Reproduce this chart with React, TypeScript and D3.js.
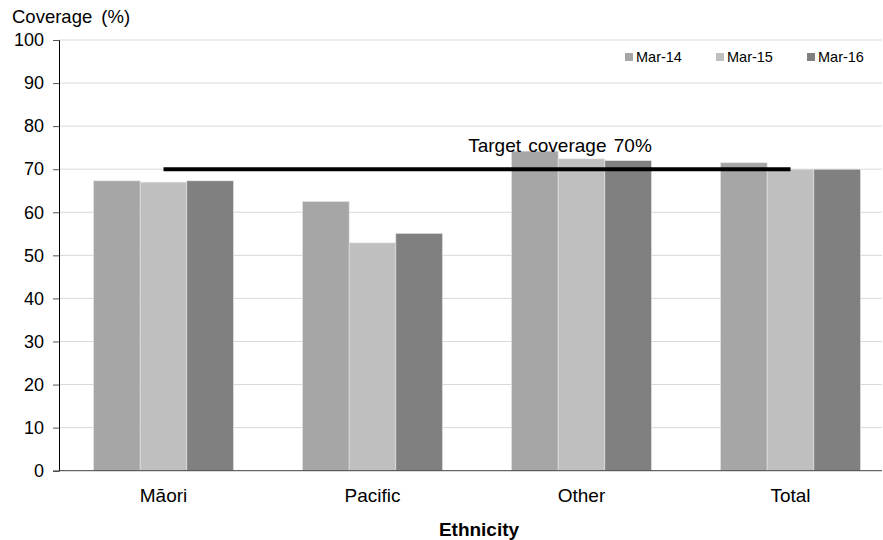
import * as d3 from 'd3'
import React, { useEffect, useRef } from "react";

const categories = ['Māori', 'Pacific', 'Other', 'Total']
const seriesNames = ['Mar-14', 'Mar-15', 'Mar-16']
const mar14 = [67.3, 62.5, 74.2, 71.5]
const mar15 = [67.0, 52.9, 72.4, 70.0]
const mar16 = [67.3, 55.1, 72.0, 70.0]
const yTicks = [0, 10, 20, 30, 40, 50, 60, 70, 80, 90, 100]
const target = 70
const targetLabel = 'Target coverage 70%'

const colors = ['#a6a6a6', '#bfbfbf', '#808080']
const font = 'Liberation Sans, Arial, sans-serif'

const App: React.FC = () => {
    const ref = useRef<SVGSVGElement>(null);

    useEffect(() => {
        if (!ref.current) return;
        const width = 883;
        const height = 540;
        const svg = d3.select(ref.current)
            .attr('width', width)
            .attr('height', height)
            .style('font-family', font);
        svg.selectAll('*').remove();

        const left = 59;
        const x = d3.scaleBand<string>().domain(categories).range([left, left + 209 * 4]).paddingInner(0.33).paddingOuter(0.165);
        const xs = d3.scaleBand<string>().domain(seriesNames).range([0, x.bandwidth()]);
        const y = d3.scaleLinear().domain([0, 100]).range([470.7, 40]);

        // gridlines
        svg.append('g')
            .selectAll('line')
            .data(yTicks.slice(1))
            .join('line')
            .attr('x1', left).attr('x2', 882)
            .attr('y1', d => y(d)).attr('y2', d => y(d))
            .attr('stroke', '#d9d9d9').attr('stroke-width', 1);

        const series = [mar14, mar15, mar16];
        series.forEach((vals, si) => {
            svg.append('g')
                .selectAll('rect')
                .data(vals)
                .join('rect')
                .attr('x', (_, i) => (x(categories[i]) as number) + (xs(seriesNames[si]) as number))
                .attr('y', d => y(d))
                .attr('width', xs.bandwidth())
                .attr('height', d => y(0) - y(d))
                .attr('fill', colors[si])
                .attr('stroke', '#e6e6e6')
                .attr('stroke-width', 0.6);
        });

        // y axis
        const yAxis = svg.append('g')
            .attr('transform', `translate(${left}, 0)`)
            .call(d3.axisLeft(y).tickValues(yTicks).tickSize(6).tickPadding(9));
        yAxis.select('.domain').attr('stroke', '#000');
        yAxis.selectAll('.tick line').attr('stroke', '#555');
        yAxis.selectAll('.tick text').attr('font-size', 18).attr('fill', '#000')
            .attr('font-family', font);

        // x axis
        const xAxis = svg.append('g')
            .attr('transform', `translate(0, ${y(0)})`)
            .call(d3.axisBottom(x).tickSize(0).tickPadding(17.5));
        xAxis.select('.domain').attr('stroke', '#404040').attr('d', `M${left},0H882`);
        xAxis.selectAll('.tick text').attr('font-size', 19).attr('fill', '#000')
            .attr('font-family', font);

        // target line
        const tx1 = (x(categories[0]) as number) + x.bandwidth() / 2;
        const tx2 = (x(categories[3]) as number) + x.bandwidth() / 2;
        svg.append('line')
            .attr('x1', tx1).attr('x2', tx2)
            .attr('y1', y(target)).attr('y2', y(target))
            .attr('stroke', '#000').attr('stroke-width', 4);
        svg.append('text')
            .attr('x', 560).attr('y', 152)
            .attr('text-anchor', 'middle')
            .attr('font-size', 19)
            .attr('word-spacing', 2)
            .text(targetLabel);

        // titles
        svg.append('text')
            .attr('x', 12).attr('y', 23)
            .attr('font-size', 18.5)
            .attr('word-spacing', 4)
            .text('Coverage (%)');
        svg.append('text')
            .attr('x', 479).attr('y', 535.5)
            .attr('text-anchor', 'middle')
            .attr('font-size', 19)
            .attr('font-weight', 'bold')
            .text('Ethnicity');

        // legend
        const legendX = [625, 716, 807];
        const lg = svg.append('g');
        seriesNames.forEach((name, i) => {
            lg.append('rect')
                .attr('x', legendX[i]).attr('y', 53)
                .attr('width', 8).attr('height', 8)
                .attr('fill', colors[i]);
            lg.append('text')
                .attr('x', legendX[i] + 11).attr('y', 61.5)
                .attr('font-size', 14.5)
                .text(name);
        });
    }, [])
    return (<svg ref={ref} style={{ display: 'block', position: 'absolute', left: 0, top: 0 }}></svg>);
}

export default App;
